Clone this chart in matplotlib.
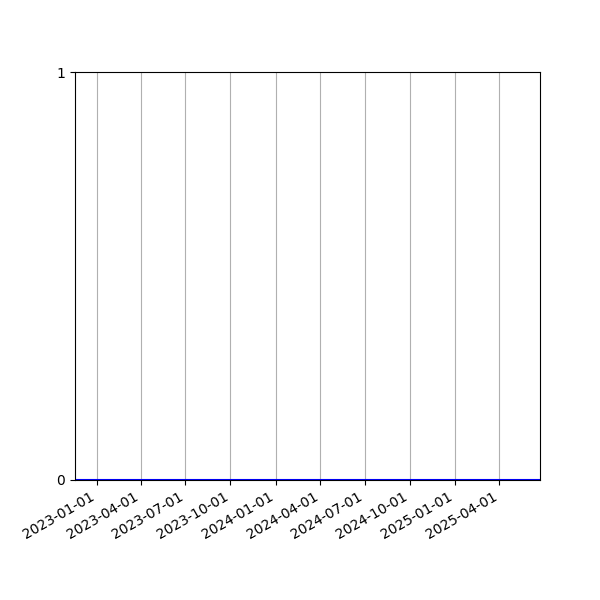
import matplotlib
matplotlib.use("Agg")
from matplotlib import pyplot as plt
import matplotlib.dates as mdates
import pandas as pd

# series: everything sits at zero over the whole period
dates = pd.date_range("2022-11-18", "2025-06-23", freq="D")
values = [0] * len(dates)

yticks = [0, 1]

fig, ax = plt.subplots(figsize=(6, 6), dpi=100)
ax.plot(dates, values, color="blue")
ax.set_xlim(dates[0], dates[-1])
ax.set_ylim(0, 1)
ax.set_yticks(yticks)

ax.xaxis.set_major_locator(mdates.MonthLocator(bymonth=[1, 4, 7, 10]))
ax.xaxis.set_major_formatter(mdates.DateFormatter("%Y-%m-%d"))
ax.grid(axis="x")
fig.autofmt_xdate()

fig.savefig("out.png")
